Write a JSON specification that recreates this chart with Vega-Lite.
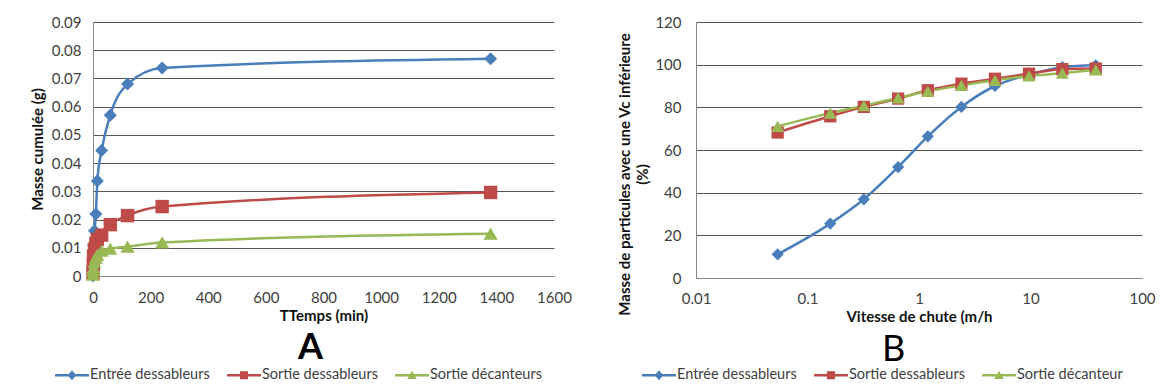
{
  "$schema": "https://vega.github.io/schema/vega-lite/v6.json",
  "background": "white",
  "padding": {"left": 30, "top": 15, "right": 5, "bottom": 5},
  "spacing": 45,
  "datasets": {
    "A": [
      {"serie": "Entrée dessableurs", "t": 0, "m": 0.0},
      {"serie": "Entrée dessableurs", "t": 1, "m": 0.006},
      {"serie": "Entrée dessableurs", "t": 2, "m": 0.011},
      {"serie": "Entrée dessableurs", "t": 5, "m": 0.016},
      {"serie": "Entrée dessableurs", "t": 10, "m": 0.022},
      {"serie": "Entrée dessableurs", "t": 15, "m": 0.0337},
      {"serie": "Entrée dessableurs", "t": 30, "m": 0.0445},
      {"serie": "Entrée dessableurs", "t": 60, "m": 0.057},
      {"serie": "Entrée dessableurs", "t": 120, "m": 0.068},
      {"serie": "Entrée dessableurs", "t": 240, "m": 0.0737},
      {"serie": "Entrée dessableurs", "t": 1380, "m": 0.077},
      {"serie": "Sortie dessableurs", "t": 0, "m": 0.001},
      {"serie": "Sortie dessableurs", "t": 1, "m": 0.004},
      {"serie": "Sortie dessableurs", "t": 2, "m": 0.007},
      {"serie": "Sortie dessableurs", "t": 5, "m": 0.0095},
      {"serie": "Sortie dessableurs", "t": 10, "m": 0.0115},
      {"serie": "Sortie dessableurs", "t": 15, "m": 0.013},
      {"serie": "Sortie dessableurs", "t": 30, "m": 0.0145},
      {"serie": "Sortie dessableurs", "t": 60, "m": 0.0182},
      {"serie": "Sortie dessableurs", "t": 120, "m": 0.0214},
      {"serie": "Sortie dessableurs", "t": 240, "m": 0.0246},
      {"serie": "Sortie dessableurs", "t": 1380, "m": 0.0296},
      {"serie": "Sortie décanteurs", "t": 0, "m": 0.0005},
      {"serie": "Sortie décanteurs", "t": 1, "m": 0.002},
      {"serie": "Sortie décanteurs", "t": 2, "m": 0.003},
      {"serie": "Sortie décanteurs", "t": 5, "m": 0.005},
      {"serie": "Sortie décanteurs", "t": 10, "m": 0.0065},
      {"serie": "Sortie décanteurs", "t": 15, "m": 0.0075},
      {"serie": "Sortie décanteurs", "t": 30, "m": 0.009},
      {"serie": "Sortie décanteurs", "t": 60, "m": 0.0097},
      {"serie": "Sortie décanteurs", "t": 120, "m": 0.0104},
      {"serie": "Sortie décanteurs", "t": 240, "m": 0.0119},
      {"serie": "Sortie décanteurs", "t": 1380, "m": 0.015}
    ],
    "B": [
      {"serie": "Entrée dessableurs", "v": 0.054, "p": 11.1},
      {"serie": "Entrée dessableurs", "v": 0.16, "p": 25.5},
      {"serie": "Entrée dessableurs", "v": 0.32, "p": 36.9},
      {"serie": "Entrée dessableurs", "v": 0.65, "p": 52.0},
      {"serie": "Entrée dessableurs", "v": 1.2, "p": 66.4},
      {"serie": "Entrée dessableurs", "v": 2.4, "p": 80.2},
      {"serie": "Entrée dessableurs", "v": 4.8, "p": 90.0},
      {"serie": "Entrée dessableurs", "v": 9.7, "p": 95.3},
      {"serie": "Entrée dessableurs", "v": 19.3, "p": 98.8},
      {"serie": "Entrée dessableurs", "v": 38.5, "p": 99.7},
      {"serie": "Sortie dessableurs", "v": 0.054, "p": 68.2},
      {"serie": "Sortie dessableurs", "v": 0.16, "p": 75.8},
      {"serie": "Sortie dessableurs", "v": 0.32, "p": 80.2},
      {"serie": "Sortie dessableurs", "v": 0.65, "p": 84.1},
      {"serie": "Sortie dessableurs", "v": 1.2, "p": 88.0},
      {"serie": "Sortie dessableurs", "v": 2.4, "p": 91.1},
      {"serie": "Sortie dessableurs", "v": 4.8, "p": 93.4},
      {"serie": "Sortie dessableurs", "v": 9.7, "p": 95.8},
      {"serie": "Sortie dessableurs", "v": 19.3, "p": 97.9},
      {"serie": "Sortie dessableurs", "v": 38.5, "p": 98.2},
      {"serie": "Sortie décanteur", "v": 0.054, "p": 71.1},
      {"serie": "Sortie décanteur", "v": 0.16, "p": 77.3},
      {"serie": "Sortie décanteur", "v": 0.32, "p": 80.8},
      {"serie": "Sortie décanteur", "v": 0.65, "p": 84.4},
      {"serie": "Sortie décanteur", "v": 1.2, "p": 87.5},
      {"serie": "Sortie décanteur", "v": 2.4, "p": 90.3},
      {"serie": "Sortie décanteur", "v": 4.8, "p": 92.7},
      {"serie": "Sortie décanteur", "v": 9.7, "p": 94.7},
      {"serie": "Sortie décanteur", "v": 19.3, "p": 96.0},
      {"serie": "Sortie décanteur", "v": 38.5, "p": 97.6}
    ]
  },
  "hconcat": [
    {
      "width": 461,
      "height": 254,
      "data": {"name": "A"},
      "encoding": {
        "x": {"field": "t", "type": "quantitative", "scale": {"domain": [0, 1600], "nice": false},
          "axis": {"title": "TTemps (min)", "values": [0, 200, 400, 600, 800, 1000, 1200, 1400, 1600], "format": "d", "labelFlush": false, "grid": false, "labelPadding": 14, "titlePadding": 3}},
        "y": {"field": "m", "type": "quantitative", "scale": {"domain": [0, 0.09], "nice": false},
          "axis": {"title": "Masse cumulée (g)", "values": [0, 0.01, 0.02, 0.03, 0.04, 0.05, 0.06, 0.07, 0.08, 0.09], "format": ".2~f", "labelOverlap": false, "labelFlush": false, "labelPadding": 12, "titlePadding": 6}},
        "color": {"field": "serie", "type": "nominal",
          "scale": {"domain": ["Entrée dessableurs", "Sortie dessableurs", "Sortie décanteurs"], "range": ["#4A7EBB", "#BE4B48", "#98B954"]},
          "legend": {
            "title": "A", "orient": "none", "legendX": -38, "legendY": 309, "direction": "horizontal",
            "titleOrient": "top", "titleAnchor": "middle", "titleAlign": "left", "titleFontSize": 36, "titleFontWeight": "bold", "titlePadding": -9,
            "symbolSize": 1156, "labelOffset": 1, "columnPadding": 17,
            "encode": {"symbols": {"update": {
              "shape": {"signal": "datum.value === 'Entrée dessableurs' ? 'M-1,-0.08H1V0.08H-1ZM0,-0.3L0.25,0L0,0.3L-0.25,0Z' : datum.value === 'Sortie dessableurs' ? 'M-1,-0.08H1V0.08H-1ZM-0.24,-0.24H0.24V0.24H-0.24Z' : 'M-1,-0.08H1V0.08H-1ZM0,-0.27L0.28,0.22H-0.28Z'"},
              "size": {"value": 1156}, "strokeWidth": {"value": 0}, "opacity": {"value": 1}
            }}}
          }}
      },
      "layer": [
        {
          "mark": {"type": "line", "interpolate": "monotone", "strokeWidth": 2.5},
          "encoding": {"order": {"field": "t", "type": "quantitative"}}
        },
        {
          "transform": [{"filter": "datum.serie === 'Entrée dessableurs'"}],
          "mark": {"type": "point", "filled": true, "opacity": 1, "strokeWidth": 0, "shape": "diamond", "size": 170}
        },
        {
          "transform": [{"filter": "datum.serie === 'Sortie dessableurs'"}],
          "mark": {"type": "point", "filled": true, "opacity": 1, "strokeWidth": 0, "shape": "square", "size": 180}
        },
        {
          "transform": [{"filter": "datum.serie === 'Sortie décanteurs'"}],
          "mark": {"type": "point", "filled": true, "opacity": 1, "strokeWidth": 0, "shape": "triangle-up", "size": 200}
        }
      ]
    },
    {
      "width": 446,
      "height": 256,
      "data": {"name": "B"},
      "encoding": {
        "x": {"field": "v", "type": "quantitative", "scale": {"type": "log", "domain": [0.01, 100], "nice": false},
          "axis": {"title": "Vitesse de chute (m/h", "values": [0.01, 0.1, 1, 10, 100], "format": "~g", "labelFlush": false, "grid": false, "labelPadding": 13, "titlePadding": 3}},
        "y": {"field": "p", "type": "quantitative", "scale": {"domain": [0, 120], "nice": false},
          "axis": {"title": ["Masse de particules avec une Vc inférieure", "(%)"], "values": [0, 20, 40, 60, 80, 100, 120], "labelOverlap": false, "labelFlush": false, "labelPadding": 15, "titlePadding": 4, "titleLineHeight": 18, "titleY": 152}},
        "color": {"field": "serie", "type": "nominal",
          "scale": {"domain": ["Entrée dessableurs", "Sortie dessableurs", "Sortie décanteur"], "range": ["#4A7EBB", "#BE4B48", "#98B954"]},
          "legend": {
            "title": "B", "orient": "none", "legendX": -54, "legendY": 311, "direction": "horizontal",
            "titleOrient": "top", "titleAnchor": "middle", "titleAlign": "left", "titleFontSize": 36, "titleFontWeight": "normal", "titlePadding": -11,
            "symbolSize": 1156, "labelOffset": 1, "columnPadding": 17,
            "encode": {"symbols": {"update": {
              "shape": {"signal": "datum.value === 'Entrée dessableurs' ? 'M-1,-0.08H1V0.08H-1ZM0,-0.3L0.25,0L0,0.3L-0.25,0Z' : datum.value === 'Sortie dessableurs' ? 'M-1,-0.08H1V0.08H-1ZM-0.24,-0.24H0.24V0.24H-0.24Z' : 'M-1,-0.08H1V0.08H-1ZM0,-0.27L0.28,0.22H-0.28Z'"},
              "size": {"value": 1156}, "strokeWidth": {"value": 0}, "opacity": {"value": 1}
            }}}
          }}
      },
      "layer": [
        {
          "mark": {"type": "line", "interpolate": "monotone", "strokeWidth": 2.5},
          "encoding": {"order": {"field": "v", "type": "quantitative"}}
        },
        {
          "transform": [{"filter": "datum.serie === 'Entrée dessableurs'"}],
          "mark": {"type": "point", "filled": true, "opacity": 1, "strokeWidth": 0, "shape": "diamond", "size": 150}
        },
        {
          "transform": [{"filter": "datum.serie === 'Sortie dessableurs'"}],
          "mark": {"type": "point", "filled": true, "opacity": 1, "strokeWidth": 0, "shape": "square", "size": 150}
        },
        {
          "transform": [{"filter": "datum.serie === 'Sortie décanteur'"}],
          "mark": {"type": "point", "filled": true, "opacity": 1, "strokeWidth": 0, "shape": "triangle-up", "size": 170}
        }
      ]
    }
  ],
  "resolve": {"scale": {"color": "independent"}, "legend": {"color": "independent"}},
  "config": {
    "font": "Lato",
    "view": {"stroke": null},
    "axis": {
      "labelFont": "Lato", "labelFontSize": 15, "labelColor": "#404040",
      "titleFont": "Lato", "titleFontSize": 15, "titleFontWeight": "bold", "titleColor": "#111111",
      "gridColor": "#555555", "gridWidth": 1, "domainColor": "#868686", "ticks": false
    },
    "legend": {
      "labelFont": "Lato", "labelFontSize": 14.5, "labelColor": "#404040",
      "titleFont": "Lato", "titleColor": "#000000", "padding": 0, "labelLimit": 300
    }
  }
}
